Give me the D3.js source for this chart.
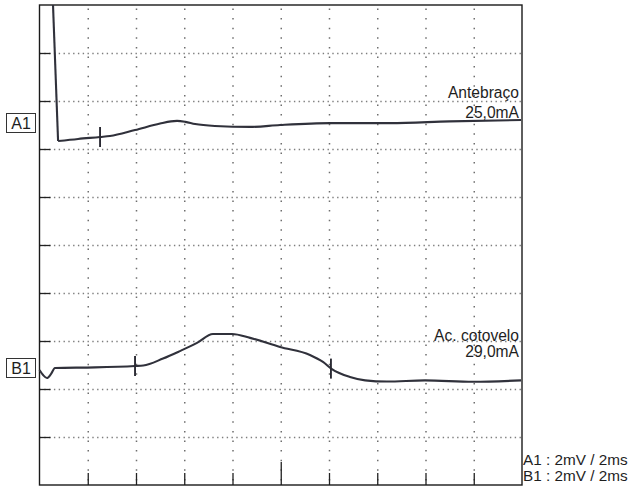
<!DOCTYPE html>
<html><head><meta charset="utf-8">
<script src="https://cdn.jsdelivr.net/npm/d3@7"></script>
<style>
html,body{margin:0;padding:0;background:#fff;}
svg{display:block;font-family:"Liberation Sans",Arial,sans-serif;}
</style></head>
<body>
<svg id="chart" width="633" height="488"></svg>
<script>
// ---- data (time in ms, amplitude in mV on a 2 mV/div, 2 ms/div screen) ----
const xTicks = [0, 2, 4, 6, 8, 10, 12, 14, 16, 18, 20];
const yTicks = [0, 2, 4, 6, 8, 10, 12, 14, 16, 18, 20];

const a1Time = [0.56, 0.77, 1.6, 2.51, 2.92, 3.96, 5.0, 5.45, 5.70, 6.05, 6.45, 7.27, 8.73, 9.97, 12.04, 14.53, 17.0, 19.96];
const a1Volt = [20.0, 14.33, 14.42, 14.5, 14.54, 14.79, 15.06, 15.15, 15.17, 15.13, 15.04, 14.96, 14.92, 15.0, 15.08, 15.08, 15.15, 15.21];

const b1Time = [0.0, 0.15, 0.31, 0.48, 0.64, 2.30, 3.96, 4.30, 5.12, 5.82, 6.53, 7.19, 7.98, 8.73, 9.97, 11.21, 11.75, 12.12, 12.87, 13.5, 14.4, 15.98, 17.97, 19.96];
const b1Volt = [4.79, 4.58, 4.46, 4.63, 4.875, 4.90, 4.96, 4.98, 5.27, 5.58, 5.92, 6.29, 6.29, 6.13, 5.75, 5.42, 5.13, 4.83, 4.50, 4.36, 4.31, 4.36, 4.30, 4.36];

const markerTime = [2.51, 3.96, 12.08];
const markerVolt = [14.5, 4.96, 4.85];

const traceNames = ["A1", "B1"];
const traceTitles = ["Antebraço", "Ac. cotovelo"];
const traceCurrents = ["25,0mA", "29,0mA"];
const scaleNotes = ["A1 : 2mV / 2ms", "B1 : 2mV / 2ms"];

// ---- layout ----
const L = 39.5, R = 522, T = 5, B = 485;
const svg = d3.select("#chart");
const x = d3.scaleLinear().domain([0, 20]).range([L, R]);
const y = d3.scaleLinear().domain([0, 20]).range([B, T]);

// grid: horizontal (fine dots)
const gy = svg.append("g").attr("transform", `translate(${L},0)`)
  .call(d3.axisLeft(y).tickValues(yTicks.slice(1, -1)).tickSize(-(R - L)).tickFormat(""));
gy.select(".domain").remove();
gy.selectAll("line").attr("stroke", "#7e7e7e").attr("stroke-width", 1.4).attr("stroke-dasharray", "1.4,3.4");

// grid: vertical (sparser dots)
const gx = svg.append("g").attr("transform", `translate(0,${B})`)
  .call(d3.axisBottom(x).tickValues(xTicks.slice(1, -1)).tickSize(-(B - T)).tickFormat(""));
gx.select(".domain").remove();
gx.selectAll("line").attr("stroke", "#6e6e6e").attr("stroke-width", 1.5)
  .attr("stroke-dasharray", "1.5,8.1").attr("stroke-dashoffset", 5);

// inner ticks on left and bottom
const tl = svg.append("g").attr("transform", `translate(${L},0)`)
  .call(d3.axisLeft(y).tickValues(yTicks.slice(1, -1)).tickSize(-11).tickFormat(""));
tl.select(".domain").remove();
tl.selectAll("line").attr("stroke", "#222").attr("stroke-width", 1.3);

const tb = svg.append("g").attr("transform", `translate(0,${B})`)
  .call(d3.axisBottom(x).tickValues(xTicks.slice(1, -1)).tickSize(-12).tickFormat(""));
tb.select(".domain").remove();
tb.selectAll("line").attr("stroke", "#222").attr("stroke-width", 1.3)
  .attr("y2", d => d === 10 ? -23 : -12);

// frame
svg.append("rect").attr("x", L).attr("y", T).attr("width", R - L).attr("height", B - T)
  .attr("fill", "none").attr("stroke", "#1a1a1a").attr("stroke-width", 1.4);

// traces
const line = d3.line().x(d => x(d[0])).y(d => y(d[1])).curve(d3.curveMonotoneX);
const lineLin = d3.line().x(d => x(d[0])).y(d => y(d[1]));
const a1 = a1Time.map((t, i) => [t, a1Volt[i]]);
const b1 = b1Time.map((t, i) => [t, b1Volt[i]]);
const traceStyle = p => p.attr("fill", "none").attr("stroke", "#30313b").attr("stroke-width", 2.1);
svg.append("path").attr("d", lineLin(a1.slice(0, 2))).call(traceStyle);
svg.append("path").attr("d", line(a1.slice(1))).call(traceStyle);
svg.append("path").attr("d", line(b1)).call(traceStyle);

// markers
svg.selectAll("line.mk").data(markerTime).enter().append("line").attr("class", "mk")
  .attr("x1", d => x(d)).attr("x2", d => x(d))
  .attr("y1", (d, i) => y(markerVolt[i]) - 10).attr("y2", (d, i) => y(markerVolt[i]) + 10)
  .attr("stroke", "#2a2a33").attr("stroke-width", 1.9);

// trace titles and stimulus currents
const titleBase = [98, 341];
const curBase = [118, 357];
traceTitles.forEach((t, i) => {
  svg.append("text").attr("x", R - 3).attr("y", titleBase[i])
    .attr("text-anchor", "end").attr("font-size", 15.6).attr("fill", "#1e1e1e").text(t);
  svg.append("text").attr("x", R - 3).attr("y", curBase[i])
    .attr("text-anchor", "end").attr("font-size", 15.6).attr("fill", "#1e1e1e").text(traceCurrents[i]);
});

// channel label boxes
const boxY = [113, 358];
traceNames.forEach((n, i) => {
  svg.append("rect").attr("x", 6.5).attr("y", boxY[i] + 0.5).attr("width", 29).attr("height", 19)
    .attr("fill", "#fff").attr("stroke", "#333").attr("stroke-width", 1);
  svg.append("text").attr("x", 21).attr("y", boxY[i] + 15.5).attr("text-anchor", "middle")
    .attr("font-size", 16).attr("fill", "#1e1e1e").text(n);
});

// scale notes
scaleNotes.forEach((s, i) => {
  svg.append("text").attr("x", R + 1).attr("y", 465 + i * 16)
    .attr("font-size", 15.3).attr("fill", "#1e1e1e").text(s);
});
</script>
</body></html>
